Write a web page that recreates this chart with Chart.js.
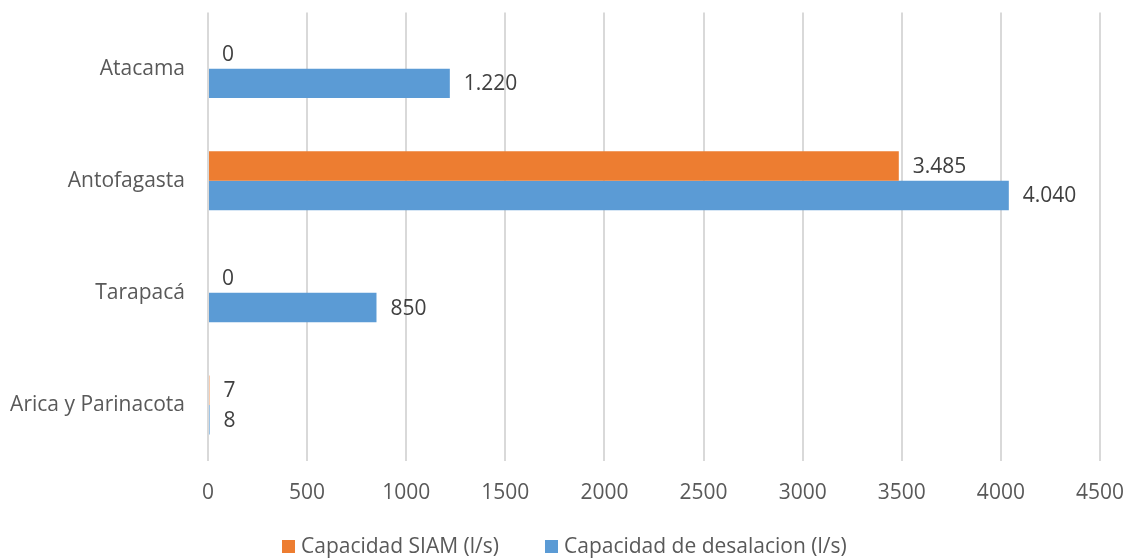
<!DOCTYPE html>
<html>
<head>
<meta charset="utf-8">
<script src="https://cdn.jsdelivr.net/npm/chart.js@4/dist/chart.umd.min.js"></script>
<style>
  body { margin: 0; background: #fff; }
  #wrap { position: relative; width: 1129px; height: 558px; }
  #legend {
    position: absolute; left: 282px; top: 531px;
    font-family: "Open Sans", sans-serif; font-size: 21px; color: #595959;
    white-space: nowrap; line-height: 28px;
  }
  .item { display: inline-block; margin-right: 46px; }
  .box { display: inline-block; width: 13px; height: 13px; margin-right: 6px; vertical-align: 0px; }
</style>
</head>
<body>
<div id="wrap">
  <canvas id="chart" width="1129" height="558"></canvas>
  <div id="legend"></div>
</div>
<script>
var regions = ['Atacama', 'Antofagasta', 'Tarapacá', 'Arica y Parinacota'];
var siam = [0, 3485, 0, 7];
var desalacion = [1220, 4040, 850, 8];
var seriesNames = ['Capacidad SIAM (l/s)', 'Capacidad de desalacion (l/s)'];
var seriesColors = ['#ED7D31', '#5B9BD5'];

// separador de miles con punto
function fmt(v) {
  return String(v).replace(/\B(?=(\d{3})+(?!\d))/g, '.');
}

var valueLabels = {
  id: 'valueLabels',
  afterDatasetsDraw: function(chart) {
    var ctx = chart.ctx;
    ctx.save();
    ctx.font = '21px "Open Sans"';
    ctx.fillStyle = '#404040';
    ctx.textAlign = 'left';
    ctx.textBaseline = 'middle';
    chart.data.datasets.forEach(function(ds, i) {
      chart.getDatasetMeta(i).data.forEach(function(bar, j) {
        ctx.fillText(fmt(ds.data[j]), bar.x + 14, bar.y + 1);
      });
    });
    ctx.restore();
  }
};

var ctx = document.getElementById('chart').getContext('2d');
var chartInstance = new Chart(ctx, {
  type: 'bar',
  data: {
    labels: regions,
    datasets: [
      { label: seriesNames[0], data: siam, backgroundColor: seriesColors[0] },
      { label: seriesNames[1], data: desalacion, backgroundColor: seriesColors[1] }
    ]
  },
  options: {
    indexAxis: 'y',
    responsive: false,
    animation: false,
    categoryPercentage: 0.525,
    barPercentage: 1,
    layout: { padding: { top: 11, right: 29, bottom: 47, left: 0 } },
    plugins: {
      legend: { display: false },
      tooltip: { enabled: false }
    },
    scales: {
      x: {
        min: 0,
        max: 4500,
        ticks: {
          stepSize: 500,
          padding: 0,
          color: '#595959',
          font: { family: 'Open Sans', size: 21 },
          callback: function(v) { return String(v); }
        },
        grid: { color: '#d9d9d9', lineWidth: 2, drawTicks: true, tickLength: 19, tickColor: 'rgba(0,0,0,0)' },
        border: { display: false },
        afterFit: function(scale) { scale.height = 50; }
      },
      y: {
        ticks: {
          padding: 0,
          color: '#595959',
          font: { family: 'Open Sans', size: 21 }
        },
        grid: { display: true, drawOnChartArea: false, drawTicks: true, tickLength: 23, color: 'rgba(0,0,0,0)', tickColor: 'rgba(0,0,0,0)' },
        border: { display: false },
        afterFit: function(scale) { scale.width = 208; }
      }
    }
  },
  plugins: [valueLabels]
});

var legend = document.getElementById('legend');
seriesNames.forEach(function(name, i) {
  var item = document.createElement('span');
  item.className = 'item';
  item.innerHTML = '<span class="box" style="background:' + seriesColors[i] + '"></span>' + name;
  legend.appendChild(item);
});
</script>
</body>
</html>
